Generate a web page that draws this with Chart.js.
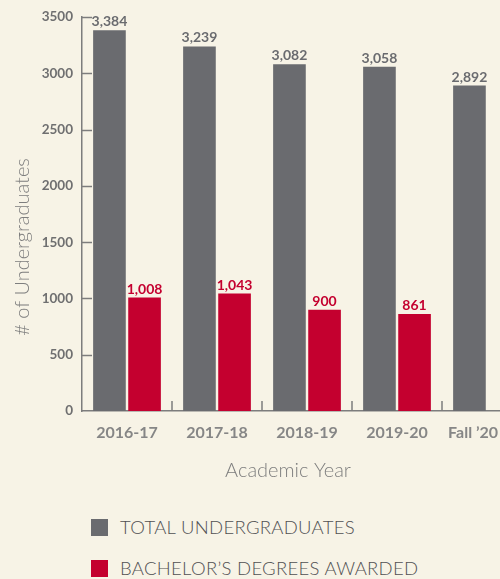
<!DOCTYPE html>
<html>
<head>
<meta charset="utf-8">
<script src="https://cdn.jsdelivr.net/npm/chart.js@4"></script>
<style>
  html, body { margin: 0; padding: 0; background: #f7f3e6; overflow: hidden; }
  body { width: 500px; height: 579px; position: relative; font-family: Lato, sans-serif; }
  #wrap { position: absolute; left: 0; top: 0; width: 540px; height: 495px; }
  .legend { position: absolute; left: 91px; color: #505052; font-size: 18.5px; font-weight: 300; letter-spacing: 0.3px; white-space: nowrap; }
  .legend span { display: inline-block; width: 17px; height: 17px; vertical-align: middle; margin-right: 12px; position: relative; top: -2px; }
</style>
</head>
<body>
<div id="wrap"><canvas id="myChart"></canvas></div>
<div class="legend" style="top:516px"><span style="background:#6a6b6f"></span>TOTAL UNDERGRADUATES</div>
<div class="legend" style="top:557px"><span style="background:#c4002f"></span>BACHELOR’S DEGREES AWARDED</div>
<script>
const years = ["2016-17", "2017-18", "2018-19", "2019-20", "Fall ’20"];
const totalUndergrads = [3384, 3239, 3082, 3058, 2892];
const bachelorsAwarded = [1008, 1043, 900, 861, null];
const yTicks = [0, 500, 1000, 1500, 2000, 2500, 3000, 3500];

const gray = "#6a6b6f";
const red = "#c4002f";
const axisGray = "#7d7d7d";

// ticks pointing into the plot, value labels, axis titles
const extras = {
    id: "extras",
    afterDraw(chart) {
        const ctx = chart.ctx;
        const xs = chart.scales.x;
        const ys = chart.scales.y;
        const area = chart.chartArea;
        ctx.save();
        ctx.strokeStyle = axisGray;
        ctx.lineWidth = 1.5;
        yTicks.forEach(v => {
            if (v === 0) return;
            const y = Math.round(ys.getPixelForValue(v)) + 0.5;
            ctx.beginPath();
            ctx.moveTo(area.left, y);
            ctx.lineTo(area.left + 10, y);
            ctx.stroke();
        });
        for (let i = 1; i < years.length; i++) {
            const x = (xs.getPixelForValue(i - 1) + xs.getPixelForValue(i)) / 2;
            ctx.beginPath();
            ctx.moveTo(x, area.bottom);
            ctx.lineTo(x, area.bottom - 10);
            ctx.stroke();
        }

        ctx.font = "bold 14px Lato";
        ctx.textAlign = "center";
        ctx.textBaseline = "alphabetic";
        chart.data.datasets.forEach((ds, di) => {
            const meta = chart.getDatasetMeta(di);
            ctx.fillStyle = ds.backgroundColor;
            meta.data.forEach((bar, i) => {
                const v = ds.data[i];
                if (v == null) return;
                ctx.fillText(v.toLocaleString("en-US"), bar.x, bar.y - 4);
            });
        });

        ctx.fillStyle = "#7e7e7e";
        ctx.font = "300 20px Lato";
        ctx.fillText("Academic Year", 288, 477);
        ctx.translate(23, 247);
        ctx.rotate(-Math.PI / 2);
        ctx.textBaseline = "middle";
        ctx.fillText("# of Undergraduates", 0, 0);
        ctx.restore();
    }
};

const config = {
    type: "bar",
    data: {
        labels: years,
        datasets: [
            { label: "TOTAL UNDERGRADUATES", data: totalUndergrads, backgroundColor: gray },
            { label: "BACHELOR’S DEGREES AWARDED", data: bachelorsAwarded, backgroundColor: red }
        ]
    },
    options: {
        responsive: true,
        maintainAspectRatio: false,
        animation: false,
        layout: { padding: { top: 16, right: 8, left: 0, bottom: 0 } },
        categoryPercentage: 0.78,
        barPercentage: 0.93,
        plugins: {
            legend: { display: false },
            tooltip: { enabled: false }
        },
        scales: {
            x: {
                grid: { display: false, drawTicks: false },
                border: { display: true, color: axisGray, width: 1.5 },
                ticks: {
                    color: "#868686",
                    font: { family: "Lato", size: 16, weight: "bold" },
                    padding: 12,
                    autoSkip: false,
                    maxRotation: 0,
                    // last label sits a bit left of its slot centre in the original
                    callback: (v, i) => i === years.length - 1 ? years[i] + "\u2007\u2007\u2007" : years[i]
                },
                afterFit: s => { s.height = 84; }
            },
            y: {
                min: 0,
                max: 3500,
                grid: { display: false, drawTicks: false },
                border: { display: true, color: axisGray, width: 1.5 },
                ticks: {
                    stepSize: 500,
                    color: "#6f6f70",
                    font: { family: "Lato", size: 13.5, weight: "bold" },
                    padding: 9,
                    callback: v => String(v)
                },
                afterFit: s => { s.width = 82; }
            }
        }
    },
    plugins: [extras]
};

new Chart(document.getElementById("myChart"), config);
</script>
</body>
</html>
